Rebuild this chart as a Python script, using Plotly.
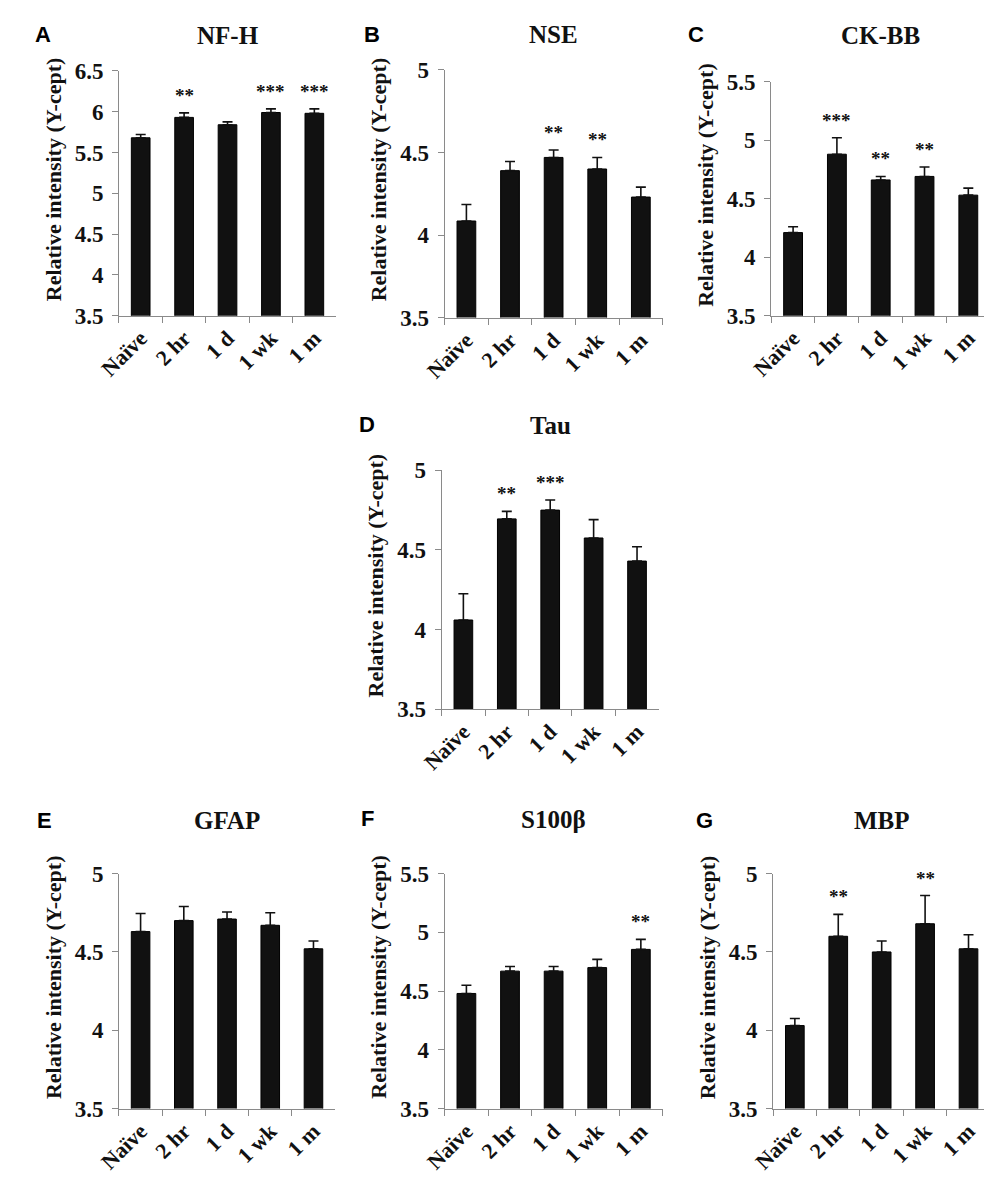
import plotly.graph_objects as go

W, H = 992, 1187

cats = ["Naïve", "2 hr", "1 d", "1 wk", "1 m"]

# values (mean), upper error bar and significance marks
nfh = [5.68, 5.93, 5.84, 5.99, 5.98]
nfh_err = [0.04, 0.055, 0.035, 0.045, 0.055]
nfh_sig = ["", "**", "", "***", "***"]

nse = [4.085, 4.39, 4.47, 4.40, 4.23]
nse_err = [0.10, 0.055, 0.045, 0.07, 0.06]
nse_sig = ["", "", "**", "**", ""]

ckbb = [4.21, 4.88, 4.66, 4.69, 4.53]
ckbb_err = [0.05, 0.14, 0.03, 0.08, 0.06]
ckbb_sig = ["", "***", "**", "**", ""]

tau = [4.06, 4.695, 4.75, 4.575, 4.43]
tau_err = [0.165, 0.047, 0.064, 0.115, 0.09]
tau_sig = ["", "**", "***", "", ""]

gfap = [4.63, 4.70, 4.71, 4.67, 4.52]
gfap_err = [0.115, 0.09, 0.045, 0.08, 0.05]
gfap_sig = ["", "", "", "", ""]

s100b = [4.48, 4.67, 4.67, 4.70, 4.855]
s100b_err = [0.07, 0.04, 0.04, 0.07, 0.085]
s100b_sig = ["", "", "", "", "**"]

mbp = [4.03, 4.60, 4.50, 4.68, 4.52]
mbp_err = [0.045, 0.14, 0.07, 0.18, 0.09]
mbp_sig = ["", "**", "", "**", ""]

# name, letter, data, y max, plot box in px (left, top, right, bottom), title y px, letter x/y px
panels = [
    ("NF-H", "A", nfh, nfh_err, nfh_sig, 6.5, (91, 52, 313, 302), 16, (13, 15)),
    ("NSE", "B", nse, nse_err, nse_sig, 5.0, (424, 51, 647, 304), 15, (350, 15)),
    ("CK-BB", "C", ckbb, ckbb_err, ckbb_sig, 5.5, (758, 63, 982, 302), 16, (681, 15)),
    ("Tau", "D", tau, tau_err, tau_sig, 5.0, (421, 460, 643, 704), 414, (345, 413)),
    ("GFAP", "E", gfap, gfap_err, gfap_sig, 5.0, (91, 872, 312, 1112), 818, (15, 818)),
    ("S100β", "F", s100b, s100b_err, s100b_sig, 5.5, (424, 872, 647, 1112), 817, (345, 816)),
    ("MBP", "G", mbp, mbp_err, mbp_sig, 5.0, (760, 872, 982, 1112), 818, (690, 818)),
]

serif = "Liberation Serif, Times New Roman, serif"
axis_grey = "#8a8a8a"

fig = go.Figure()
annotations = []
layout_axes = {}

for i, (name, letter, vals, errs, sig, ymax, box, title_y, let_xy) in enumerate(panels):
    n = i + 1
    xa = "x" if n == 1 else f"x{n}"
    ya = "y" if n == 1 else f"y{n}"
    l, t, r, b = box

    fig.add_trace(go.Bar(
        x=cats, y=vals, xaxis=xa, yaxis=ya, width=0.43, showlegend=False,
        marker=dict(color="#111111", line=dict(color="#000000", width=1)),
        error_y=dict(type="data", symmetric=False, array=errs, arrayminus=[0] * len(errs),
                     color="#111111", thickness=1.6, width=5),
    ))

    layout_axes["xaxis" if n == 1 else f"xaxis{n}"] = dict(
        domain=[l / W, r / W], anchor=ya, range=[-0.5, 4.5],
        showline=True, linecolor=axis_grey, linewidth=1,
        ticks="outside", tickson="boundaries", ticklen=6, tickcolor=axis_grey,
        tickangle=-45, tickfont=dict(family=serif, size=22, color="#111111", weight="bold"),
        showgrid=False, zeroline=False, fixedrange=True,
    )
    layout_axes["yaxis" if n == 1 else f"yaxis{n}"] = dict(
        domain=[1 - b / H, 1 - t / H], anchor=xa, range=[3.5, ymax],
        tick0=3.5, dtick=0.5, showline=True, linecolor=axis_grey, linewidth=1,
        ticks="outside", ticklen=6, tickcolor=axis_grey, ticklabelstandoff=4,
        tickfont=dict(family=serif, size=23, color="#111111", weight="bold"),
        showgrid=False, zeroline=False, fixedrange=True,
    )

    # significance stars
    for c, v, e, s in zip(cats, vals, errs, sig):
        if s:
            annotations.append(dict(
                x=c, y=v + e, xref=xa, yref=ya, text=s, showarrow=False,
                yanchor="bottom", yshift=5,
                font=dict(family=serif, size=19, color="#111111", weight="bold"),
            ))

    # y title
    annotations.append(dict(
        x=0, y=0.5, xref=f"{xa} domain", yref=f"{ya} domain", xshift=-66, yshift=14,
        text="Relative intensity (Y-cept)", textangle=-90, showarrow=False,
        xanchor="center", yanchor="middle",
        font=dict(family=serif, size=22, color="#111111", weight="bold"),
    ))
    # panel title
    annotations.append(dict(
        x=0.5, xref=f"{xa} domain", y=1 - title_y / H, yref="paper", text=name,
        showarrow=False, xanchor="center", yanchor="middle",
        font=dict(family=serif, size=25, color="#111111", weight="bold"),
    ))
    # panel letter
    annotations.append(dict(
        x=let_xy[0] / W, y=1 - let_xy[1] / H, xref="paper", yref="paper", text=letter,
        showarrow=False, xanchor="center", yanchor="middle",
        font=dict(family="Liberation Sans, Arial, sans-serif", size=22, color="#000000", weight="bold"),
    ))

fig.update_layout(
    width=W, height=H, margin=dict(l=0, r=0, t=0, b=0),
    paper_bgcolor="white", plot_bgcolor="white",
    bargap=0.57, annotations=annotations, **layout_axes,
)

fig.write_html("out.html")
